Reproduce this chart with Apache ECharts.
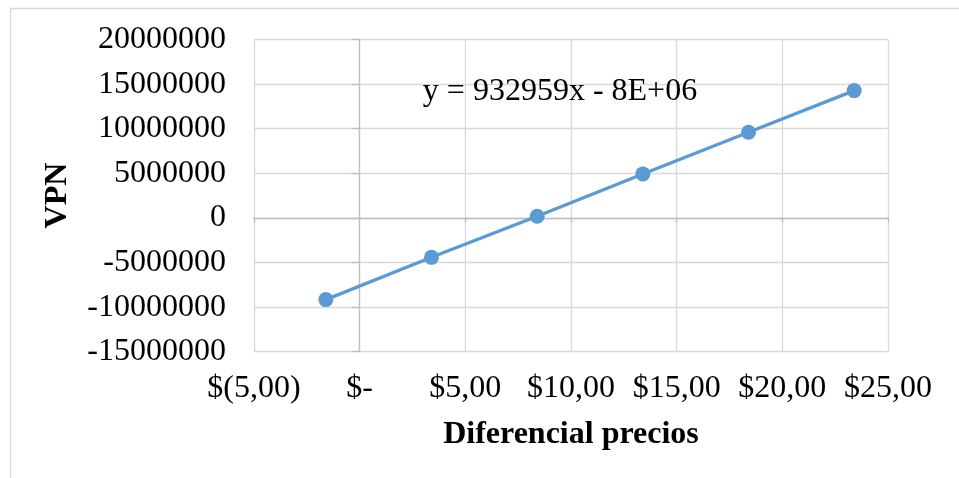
<!DOCTYPE html>
<html>
<head>
<meta charset="utf-8">
<script src="https://cdn.jsdelivr.net/npm/echarts@6/dist/echarts.min.js"></script>
<style>
html,body{margin:0;padding:0;background:#fff;}
#chart{width:959px;height:478px;}
</style>
</head>
<body>
<div id="chart"></div>
<script>
// Data
const xValues = [-1.6, 3.4, 8.4, 13.4, 18.4, 23.4];
const vpnValues = [-9160000, -4420000, 180000, 4930000, 9600000, 14270000];
const xTickValues = [-5, 0, 5, 10, 15, 20, 25];
const xTickLabels = ['$(5,00)', '$-', '$5,00', '$10,00', '$15,00', '$20,00', '$25,00'];
const yAxisTitle = 'VPN';
const xAxisTitle = 'Diferencial precios';
const trendText = 'y = 932959x - 8E+06';

const FONT = '"Liberation Serif", "Times New Roman", serif';
const points = xValues.map((x, i) => [x, vpnValues[i]]);
const X_MIN = -5, X_MAX = 25, X_STEP = 5;
const Y_MIN = -15000000, Y_MAX = 20000000, Y_STEP = 5000000;

const chart = echarts.init(document.getElementById('chart'), null, {renderer: 'canvas'});
chart.setOption({
  animation: false,
  backgroundColor: '#ffffff',
  textStyle: {fontFamily: FONT},
  grid: {left: 254, right: 71, top: 39.5, bottom: 126.3, containLabel: false},
  xAxis: [{
    type: 'value',
    min: X_MIN, max: X_MAX, interval: X_STEP,
    position: 'bottom',
    name: xAxisTitle,
    nameLocation: 'middle',
    nameGap: 67,
    nameTextStyle: {fontFamily: FONT, fontSize: 32, fontWeight: 'bold', color: '#000'},
    axisLine: {show: false, onZero: false},
    axisTick: {show: false},
    axisLabel: {
      fontFamily: FONT, fontSize: 32, color: '#000', margin: 21,
      formatter: v => { const i = xTickValues.indexOf(v); return i >= 0 ? xTickLabels[i] : ''; }
    },
    splitLine: {show: true, lineStyle: {color: '#d9d9d9', width: 1.3}}
  }, {
    type: 'value',
    min: X_MIN, max: X_MAX, interval: X_STEP,
    position: 'bottom',
    axisLine: {show: true, onZero: true, lineStyle: {color: '#bfbfbf', width: 1.3}},
    axisTick: {show: true, length: 5, lineStyle: {color: '#bfbfbf', width: 1.3}},
    axisLabel: {show: false},
    splitLine: {show: false}
  }],
  yAxis: [{
    type: 'value',
    min: Y_MIN, max: Y_MAX, interval: Y_STEP,
    position: 'left',
    name: yAxisTitle,
    nameLocation: 'middle',
    nameRotate: 90,
    nameGap: 180,
    nameTextStyle: {fontFamily: FONT, fontSize: 32, fontWeight: 'bold', color: '#000'},
    axisLine: {show: false, onZero: false},
    axisTick: {show: false},
    axisLabel: {
      fontFamily: FONT, fontSize: 32, color: '#000', margin: 28,
      formatter: v => String(v)
    },
    splitLine: {show: true, lineStyle: {color: '#d9d9d9', width: 1.3}}
  }, {
    type: 'value',
    min: Y_MIN, max: Y_MAX, interval: Y_STEP,
    position: 'left',
    axisLine: {show: true, onZero: true, onZeroAxisIndex: 0, lineStyle: {color: '#bfbfbf', width: 1.3}},
    axisTick: {show: true, length: 8, lineStyle: {color: '#bfbfbf', width: 1.3}},
    axisLabel: {show: false},
    splitLine: {show: false}
  }],
  series: [{
    type: 'line',
    xAxisIndex: 0,
    yAxisIndex: 0,
    data: points,
    symbol: 'circle',
    symbolSize: 15,
    lineStyle: {color: '#5b9bd5', width: 3.3},
    itemStyle: {color: '#5b9bd5'},
    z: 5
  }],
  graphic: [
    {
      type: 'rect',
      shape: {x: 10.5, y: 8.5, width: 1200, height: 1000},
      style: {fill: 'none', stroke: '#d9d9d9', lineWidth: 1.3},
      silent: true,
      z: -1
    },
    {
      type: 'text',
      x: 560, y: 92,
      style: {
        text: trendText,
        fontFamily: FONT, fontSize: 32, fill: '#000',
        textAlign: 'center', textVerticalAlign: 'middle'
      },
      silent: true,
      z: 10
    }
  ]
});
</script>
</body>
</html>
